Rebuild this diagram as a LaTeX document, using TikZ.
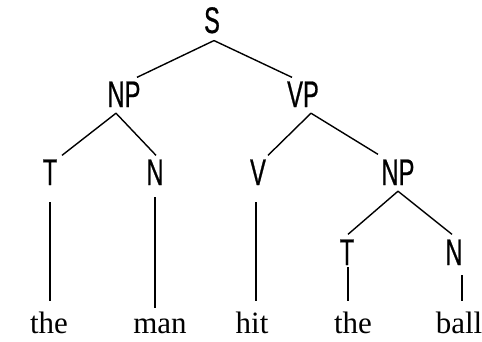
\documentclass[tikz,border=0pt]{standalone}
\usepackage{fontspec}
\usetikzlibrary{calc}
\newfontfamily\labfont[FakeStretch=0.64,FakeBold=0.6]{Liberation Sans}
\newfontfamily\leaffont{Liberation Serif}
\begin{document}
\begin{tikzpicture}[x=1pt,y=-1pt,
  lab/.style={inner sep=0pt,anchor=base,font=\labfont\fontsize{37}{37}\selectfont},
  leafw/.style={inner sep=0pt,anchor=base,font=\leaffont\fontsize{31}{31}\selectfont},
  edge/.style={line width=1.4pt,black}]
\useasboundingbox (0,0) rectangle (482,341);
% labels
\node[lab] (S) at (212,33) {S};
\node[lab] (NP) at (124,107) {NP};
\node[lab] (VP) at (303,107) {VP};
\node[lab] (T) at (50,185) {T};
\node[lab] (N) at (155,185) {N};
\node[lab] (V) at (258,185) {V};
\node[lab] (NPb) at (398,185) {NP};
\node[lab] (Tb) at (347,265) {T};
\node[lab] (Nb) at (454,265) {N};
% leaves
\node[leafw] (the) at (49,333) {the};
\node[leafw] (man) at (160,333) {man};
\node[leafw] (hit) at (252,333) {hit};
\node[leafw] (theb) at (353,333) {the};
\node[leafw] (ball) at (459,333) {ball};
% edges
\draw[edge] ($(S.south)+(2,7)$) -- ($(NP.north)+(13,-4)$);
\draw[edge] ($(S.south)+(2,7)$) -- ($(VP.north)+(-11,-4)$);
\draw[edge] ($(NP.south)+(-8,6)$) -- ($(T.north)+(12,-4)$);
\draw[edge] ($(NP.south)+(-8,6)$) -- ($(N.north)+(1,-4)$);
\draw[edge] ($(VP.south)+(8,6)$) -- ($(V.north)+(10,-4)$);
\draw[edge] ($(VP.south)+(8,6)$) -- ($(NPb.north)+(-20,-5)$);
\draw[edge] ($(NPb.south)+(0,6)$) -- ($(Tb.north)+(1,-5)$);
\draw[edge] ($(NPb.south)+(0,6)$) -- ($(Nb.north)+(-2,-5)$);
\draw[edge] ($(T.south)+(0,17)$) -- ($(T.south|-the.north)+(0,-10)$);
\draw[edge] ($(N.south)+(0,12)$) -- ($(N.south|-man.north)+(0,-10)$);
\draw[edge] ($(V.south)+(-2,17)$) -- ($(V.south|-hit.north)+(-2,-10)$);
\draw[edge] ($(Tb.south)+(1,2)$) -- ($(Tb.south|-theb.north)+(1,-10)$);
\draw[edge] ($(Nb.south)+(8,10)$) -- ($(Nb.south|-ball.north)+(8,-10)$);
\end{tikzpicture}
\end{document}
